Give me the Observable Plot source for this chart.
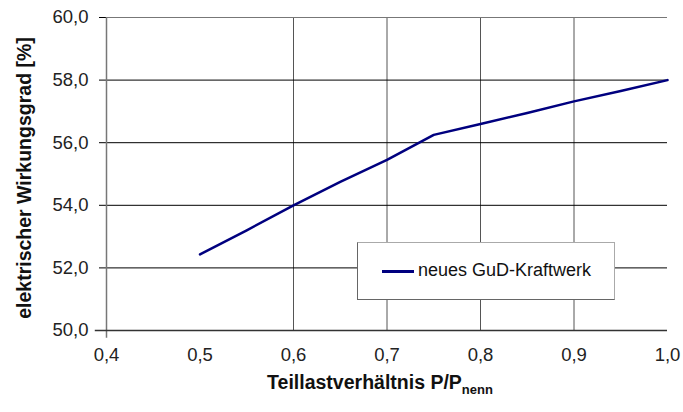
<!DOCTYPE html>
<html><head><meta charset="utf-8">
<script src="https://cdn.jsdelivr.net/npm/d3@7"></script>
<script src="https://cdn.jsdelivr.net/npm/@observablehq/plot@0.6"></script>
<style>
body{margin:0;background:#fff;font-family:"Liberation Sans",Arial,sans-serif;}
#wrap{position:relative;width:683px;height:412px;}
#ylab{position:absolute;left:24px;top:178px;transform:translate(-50%,-50%) rotate(-90deg);white-space:nowrap;font-weight:bold;font-size:19.5px;color:#111;}
#xlab{position:absolute;left:380px;top:384px;transform:translate(-50%,-50%);white-space:nowrap;font-weight:bold;font-size:19.5px;color:#111;}
#xlab sub{font-size:13px;vertical-align:-5px;}
#legend{position:absolute;left:357px;top:242px;width:258px;height:58px;background:#fff;border:1px solid #aaa;border-left:1.5px solid #666;border-bottom:1.5px solid #666;box-sizing:border-box;}
#legend .sw{position:absolute;left:24px;top:27px;width:32px;height:3px;background:#00007f;}
#legend .tx{position:absolute;left:60px;top:17px;font-size:18px;color:#111;line-height:20px;}
</style></head><body>
<div id="wrap">
<div id="chart"></div>
<div id="ylab">elektrischer Wirkungsgrad [%]</div>
<div id="xlab">Teillastverhältnis P/P<sub>nenn</sub></div>
<div id="legend"><div class="sw"></div><div class="tx">neues GuD-Kraftwerk</div></div>
</div>
<script>
const seriesName = "neues GuD-Kraftwerk";
const load = [0.5, 0.55, 0.6, 0.65, 0.7, 0.75, 0.8, 0.85, 0.9, 0.95, 1.0];
const efficiency = [52.43, 53.2, 54.0, 54.75, 55.45, 56.25, 56.6, 56.95, 57.32, 57.65, 58.0];
const xTicks = [0.4, 0.5, 0.6, 0.7, 0.8, 0.9, 1.0];
const yTicks = [50, 52, 54, 56, 58, 60];
const xGrid = [0.6, 0.7, 0.8, 0.9];
const yGrid = [52, 54, 56, 58];

const data = load.map((x, i) => ({x, y: efficiency[i]}));
const fmt = d => d3.format(".1f")(d).replace(".", ",");

const chart = Plot.plot({
  width: 683, height: 412,
  marginLeft: 106, marginRight: 16, marginTop: 17, marginBottom: 82,
  style: {fontFamily: "'Liberation Sans', Arial, sans-serif", color: "#222", background: "#fff"},
  x: {type: "linear", domain: [0.4, 1.0]},
  y: {type: "linear", domain: [50, 60]},
  marks: [
    Plot.ruleX(xGrid, {y1: 50, y2: 60, stroke: "#555", strokeOpacity: 1, strokeWidth: 1}),
    Plot.ruleY(yGrid, {x1: 0.4, x2: 1.0, stroke: "#000", strokeOpacity: 1, strokeWidth: 1}),
    Plot.ruleY([60], {x1: 0.4, x2: 1.0, stroke: "#777", strokeOpacity: 1, strokeWidth: 1}),
    Plot.axisY({ticks: yTicks, tickFormat: fmt, tickSize: 7, tickPadding: 11, label: null, stroke: "#000", fill: "#222", fontSize: 18.5}),
    Plot.axisX({ticks: xTicks, tickFormat: fmt, tickSize: 0, tickPadding: 17, label: null, fill: "#222", fontSize: 18.5}),
    Plot.ruleX([0.4], {y1: 49.75, y2: 60, stroke: "#777", strokeOpacity: 1, strokeWidth: 1.5}),
    Plot.ruleY([50], {x1: 0.388, x2: 1.0, stroke: "#333", strokeOpacity: 1, strokeWidth: 1.5}),
    Plot.line(data, {x: "x", y: "y", stroke: "#00007f", strokeWidth: 2.5})
  ]
});
document.getElementById("chart").appendChild(chart);
</script>
</body></html>
